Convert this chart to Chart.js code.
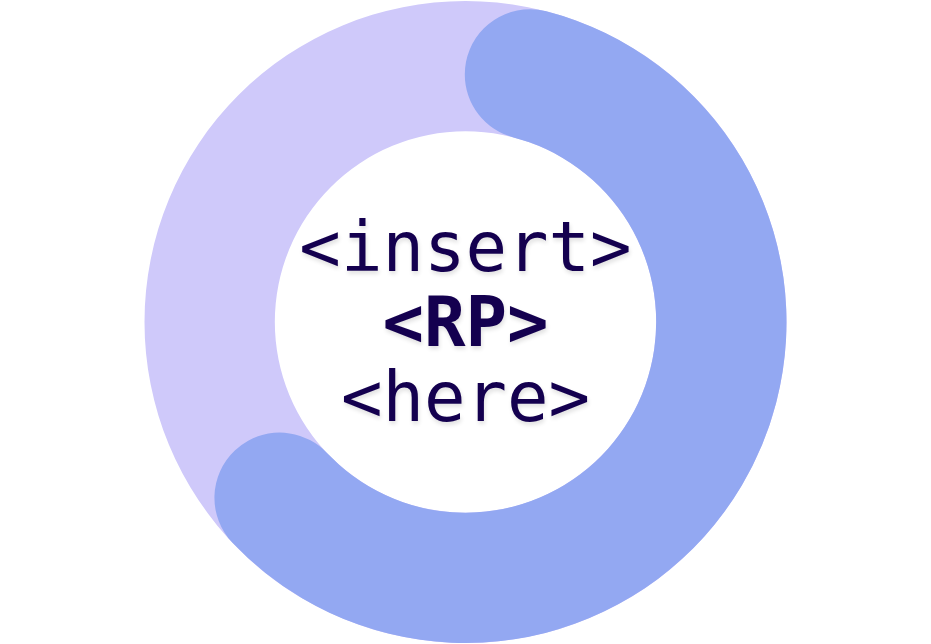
<!DOCTYPE html>
<html>
<head>
<meta charset="utf-8">
<script src="https://cdn.jsdelivr.net/npm/chart.js"></script>
<style>
    html, body { margin: 0; padding: 0; background: #ffffff; }
    #wrap { width: 931px; height: 644px; }
</style>
</head>
<body>
<div id="wrap"><canvas id="rpChart"></canvas></div>
<script>
// chart data
const segmentLabels = ['RP', 'Remaining'];
const segmentValues = [67, 33];
const segmentColors = ['#93a8f2', 'rgba(0,0,0,0)'];
const centerLines = ['<insert>', '<RP>', '<here>'];

const trackColor = '#cfc9fa';
const textColor = '#14004f';

// full light purple ring behind the value arc
const trackPlugin = {
    id: 'track',
    beforeDatasetsDraw(chart) {
        const arc = chart.getDatasetMeta(0).data[0];
        if (!arc) return;
        const ctx = chart.ctx;
        ctx.save();
        ctx.beginPath();
        ctx.arc(arc.x, arc.y, arc.outerRadius, 0, Math.PI * 2);
        ctx.arc(arc.x, arc.y, arc.innerRadius, 0, Math.PI * 2, true);
        ctx.closePath();
        ctx.fillStyle = trackColor;
        ctx.fill();
        ctx.restore();
    }
};

// the three lines of text in the hole
const centerTextPlugin = {
    id: 'centerText',
    afterDraw(chart) {
        const arc = chart.getDatasetMeta(0).data[0];
        if (!arc) return;
        const ctx = chart.ctx;
        ctx.save();
        ctx.textAlign = 'center';
        ctx.textBaseline = 'alphabetic';
        ctx.fillStyle = textColor;
        ctx.shadowColor = 'rgba(0,0,0,0.12)';
        ctx.shadowBlur = 4;
        ctx.shadowOffsetX = 1;
        ctx.shadowOffsetY = 3;
        const baselines = [-51, 24, 99];
        centerLines.forEach((line, i) => {
            const bold = i === 1;
            ctx.font = (bold ? 'bold ' : '') + '69px "DejaVu Sans Mono", monospace';
            ctx.fillText(line, arc.x, arc.y + baselines[i]);
        });
        ctx.restore();
    }
};

new Chart(document.getElementById('rpChart'), {
    type: 'doughnut',
    data: {
        labels: segmentLabels,
        datasets: [{
            data: segmentValues,
            backgroundColor: segmentColors,
            borderWidth: 0,
            borderRadius: [200, 0]
        }]
    },
    options: {
        responsive: true,
        maintainAspectRatio: false,
        animation: false,
        cutout: '59.4%',
        layout: { padding: 1 },
        plugins: {
            legend: { display: false },
            tooltip: { enabled: false }
        }
    },
    plugins: [trackPlugin, centerTextPlugin]
});
</script>
</body>
</html>
